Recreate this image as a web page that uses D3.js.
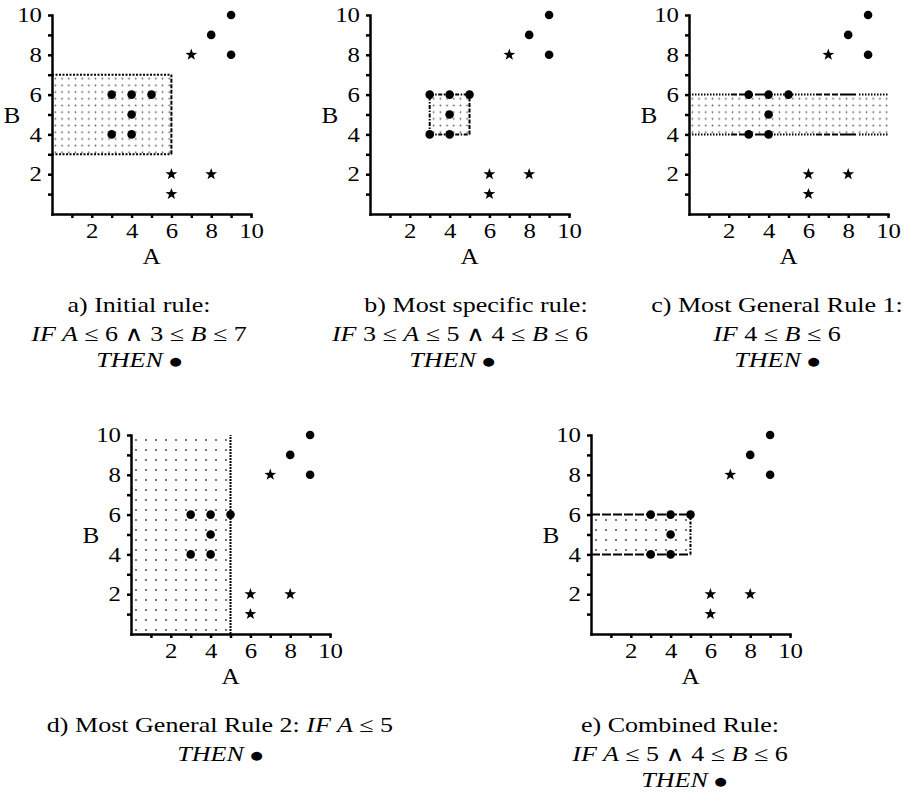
<!DOCTYPE html>
<html>
<head>
<meta charset="utf-8">
<script src="https://cdn.jsdelivr.net/npm/d3@7"></script>
<style>
  body { margin: 0; background: #fff; }
  svg { display: block; }
</style>
</head>
<body>
<div id="chart"></div>
<script>
// ============================
// Data
// ============================

const width = 910;
const height = 793;

// examples of the "dot" class (A, B)
const dotA = [3, 4, 5, 4, 3, 4, 8, 9, 9];
const dotB = [6, 6, 6, 5, 4, 4, 9, 10, 8];

// examples of the "star" class (A, B)
const starA = [7, 6, 8, 6];
const starB = [8, 2, 2, 1];

const axisTicks = [1, 2, 3, 4, 5, 6, 7, 8, 9, 10];
const tickLabels = [2, 4, 6, 8, 10];

// rule region shown in each panel
const panelNames = ["a", "b", "c", "d", "e"];
const ruleAmin = [0, 3, 0, 0, 0];
const ruleAmax = [6, 5, 10, 5, 5];
const ruleBmin = [3, 4, 4, 0, 4];
const ruleBmax = [7, 6, 6, 10, 6];

// captions, *...* = math italic
const captions = [
  ["a) Initial rule:", "*IF A* ≤ 6 ∧ 3 ≤ *B* ≤ 7", "*THEN* •"],
  ["b) Most specific rule:", "*IF* 3 ≤ *A* ≤ 5 ∧ 4 ≤ *B* ≤ 6", "*THEN* •"],
  ["c) Most General Rule 1:", "*IF* 4 ≤ *B* ≤ 6", "*THEN* •"],
  ["d) Most General Rule 2: *IF A* ≤ 5", "*THEN* •"],
  ["e) Combined Rule:", "*IF A* ≤ 5 ∧ 4 ≤ *B* ≤ 6", "*THEN* •"]
];

// ============================
// Layout / styles
// ============================

const plotSize = 199;
const serif = "'Liberation Serif', 'DejaVu Serif', serif";
const capStretch = 1.24;   // the original type is set wide
const tickStretch = 1.18;
const capOffsets = [98, 127, 153];

const layout = {
  a: {x: 52,  y: 214, cap: [139, 139, 139], pattern: "dense"},
  b: {x: 370, y: 214, cap: [476, 460, 452], pattern: "dense"},
  c: {x: 689, y: 214, cap: [777, 777, 777], pattern: "dense"},
  d: {x: 131, y: 634, cap: [220, 220],      pattern: "sparse"},
  e: {x: 591, y: 634, cap: [680, 680, 684], pattern: "sparse"}
};

// dash pattern for the mixed dotted / dashed band edges of panel c
const mixedDash = d3.range(14).map(() => "1.5,1.5")
  .concat(d3.range(3).map(() => "6,2"))
  .concat(["16,3"]).join(",");

const edgeStyle = {
  a: {top: "2,1.5", bottom: "2,1.5", right: "4,1.5"},
  b: {top: "4,1.5,1.5,1.5", bottom: "4,1.5,1.5,1.5", left: "4,1.5,1.5,1.5", right: "4,1.5"},
  c: {top: mixedDash, bottom: mixedDash},
  d: {right: "2,1"},
  e: {top: "9,2", bottom: "9,2", right: "3,1.5,1.5,1.5"}
};

// ============================
// Setup
// ============================

const svg = d3.select("#chart").append("svg")
  .attr("width", width)
  .attr("height", height)
  .attr("viewBox", [0, 0, width, height]);

const defs = svg.append("defs");

function addDotPattern(id, step, r) {
  defs.append("pattern")
    .attr("id", id)
    .attr("patternUnits", "userSpaceOnUse")
    .attr("width", step)
    .attr("height", step)
    .append("circle")
    .attr("cx", step / 2)
    .attr("cy", step / 2)
    .attr("r", r)
    .attr("fill", "#555");
}
addDotPattern("dense", 6.7, 0.85);
addDotPattern("sparse", 10, 1.1);

// five pointed star, size = outer radius
const starSymbol = {
  draw(ctx, R) {
    const r = R * 0.4;
    for (let k = 0; k < 10; k++) {
      const rad = k % 2 ? r : R;
      const a = -Math.PI / 2 + k * Math.PI / 5;
      if (k === 0) ctx.moveTo(rad * Math.cos(a), rad * Math.sin(a));
      else ctx.lineTo(rad * Math.cos(a), rad * Math.sin(a));
    }
    ctx.closePath();
  }
};

function stretchedText(parent, str, x, y, sx, size, anchor) {
  const t = parent.append("text")
    .attr("transform", `translate(${x},${y}) scale(${sx},1)`)
    .attr("text-anchor", anchor)
    .attr("font-family", serif)
    .attr("font-size", size)
    .attr("fill", "#000");
  str.split("*").forEach((seg, k) => {
    if (!seg) return;
    // the bullet of the original is a big filled disc
    seg.split("•").forEach((part, j) => {
      if (j > 0) t.append("tspan")
        .attr("font-family", "'DejaVu Sans'")
        .attr("font-size", size * 0.55)
        .attr("baseline-shift", 2)
        .text("●");
      if (part) t.append("tspan").attr("font-style", k % 2 ? "italic" : null).text(part);
    });
  });
  return t;
}

// ============================
// Panels
// ============================

function drawPanel(i) {
  const name = panelNames[i];
  const L = layout[name];
  const g = svg.append("g").attr("transform", `translate(${L.x},${L.y - plotSize})`);

  const x = d3.scaleLinear().domain([0, 10]).range([0, plotSize]);
  const y = d3.scaleLinear().domain([0, 10]).range([plotSize, 0]);

  // rule region
  g.append("rect")
    .attr("x", x(ruleAmin[i]))
    .attr("y", y(ruleBmax[i]))
    .attr("width", x(ruleAmax[i]) - x(ruleAmin[i]))
    .attr("height", y(ruleBmin[i]) - y(ruleBmax[i]))
    .attr("fill", `url(#${L.pattern})`);

  const edges = {
    top:    [ruleAmin[i], ruleBmax[i], ruleAmax[i], ruleBmax[i]],
    bottom: [ruleAmin[i], ruleBmin[i], ruleAmax[i], ruleBmin[i]],
    left:   [ruleAmin[i], ruleBmin[i], ruleAmin[i], ruleBmax[i]],
    right:  [ruleAmax[i], ruleBmin[i], ruleAmax[i], ruleBmax[i]]
  };
  Object.entries(edgeStyle[name]).forEach(([side, dash]) => {
    const e = edges[side];
    g.append("line")
      .attr("x1", x(e[0])).attr("y1", y(e[1]))
      .attr("x2", x(e[2])).attr("y2", y(e[3]))
      .attr("stroke", "#000")
      .attr("stroke-width", 2)
      .attr("stroke-dasharray", dash);
  });

  // axes
  const fmt = d => tickLabels.includes(d) ? d : "";
  const styleAxis = s => {
    s.attr("font-family", serif).attr("font-size", 21);
    s.select(".domain").attr("stroke-width", 2.5).attr("stroke-linecap", "square");
    s.selectAll(".tick line").attr("stroke-width", 2.5);
    s.selectAll(".tick text").attr("fill", "#000");
  };

  g.append("g")
    .attr("transform", `translate(0,${plotSize})`)
    .call(d3.axisBottom(x).tickValues(axisTicks).tickSize(4).tickSizeOuter(0).tickPadding(5).tickFormat(fmt))
    .call(styleAxis)
    .call(s => s.selectAll(".tick text").attr("transform", `scale(${tickStretch},1)`));

  g.append("g")
    .call(d3.axisLeft(y).tickValues(axisTicks).tickSize(4).tickSizeOuter(0).tickPadding(6).tickFormat(fmt))
    .call(styleAxis)
    .call(s => s.selectAll(".tick text")
      .attr("x", -10 / tickStretch)
      .attr("transform", `scale(${tickStretch},1)`));

  // axis labels
  stretchedText(g, "A", x(5), plotSize + 50, 1.05, 24, "middle");
  stretchedText(g, "B", -40, y(5) + 8, 1.05, 24, "middle");

  // examples
  g.append("g").selectAll("circle")
    .data(dotA.map((a, k) => ({a, b: dotB[k]})))
    .join("circle")
    .attr("cx", d => x(d.a))
    .attr("cy", d => y(d.b))
    .attr("r", 4.3)
    .attr("fill", "#000");

  g.append("g").selectAll("path")
    .data(starA.map((a, k) => ({a, b: starB[k]})))
    .join("path")
    .attr("transform", d => `translate(${x(d.a)},${y(d.b)})`)
    .attr("d", d3.symbol().type(starSymbol).size(6.2))
    .attr("fill", "#000");

  // caption
  captions[i].forEach((line, k) => {
    stretchedText(svg, line, L.cap[k], L.y + capOffsets[k], capStretch, 21, "middle");
  });
}

panelNames.forEach((d, i) => drawPanel(i));
</script>
</body>
</html>
